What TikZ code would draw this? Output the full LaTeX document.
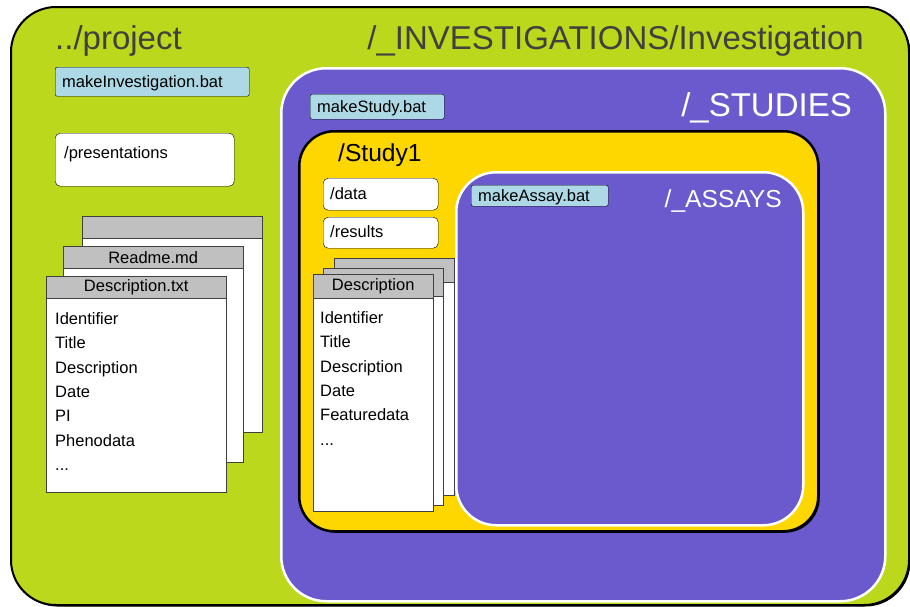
\documentclass[tikz,border=0pt]{standalone}
\usepackage{fontspec}
\setmainfont{Liberation Sans}
\usetikzlibrary{positioning,shadows}

\definecolor{limegreen}{RGB}{188,216,28}
\definecolor{slatepurple}{RGB}{106,90,205}
\definecolor{studygold}{RGB}{255,215,0}
\definecolor{batblue}{RGB}{173,216,230}
\definecolor{headgray}{RGB}{192,192,192}
\definecolor{titlegray}{RGB}{64,64,64}

\newcommand{\smalltext}{\fontsize{16.5}{24.3}\selectfont}
\newcommand{\bigtitle}{\fontsize{33}{40}\selectfont}
\newcommand{\midtitle}{\fontsize{24.6}{30}\selectfont}

\begin{document}
\begin{tikzpicture}[x=1pt,y=-1pt]
  \tikzstyle{folder} = [rectangle, anchor=north west, inner sep=0]
  \tikzstyle{purplefolder} = [folder, fill=slatepurple, draw=white, line width=2.5]
  \tikzstyle{batbox} = [rectangle, draw, rounded corners=2, fill=batblue, anchor=north west, align=left, inner xsep=7, inner ysep=0, text height=14, text depth=2, font=\smalltext]
  \tikzstyle{dirbox} = [rectangle, draw, rounded corners=5, fill=white, anchor=north west, align=left, inner xsep=7, inner ysep=0, text height=13, text depth=3, font=\smalltext]
  \tikzstyle{page} = [rectangle, draw=black!75, fill=white, anchor=north west, inner sep=0]
  \tikzstyle{pagehead} = [page, fill=headgray, font=\smalltext]
  \tikzstyle{pagetext} = [anchor=north west, align=left, inner sep=0, font=\smalltext]
  \tikzstyle{foldername} = [inner sep=0]
  \tikzstyle{blackshadow} = [drop shadow={shadow xshift=1.5pt, shadow yshift=-1.5pt, opacity=1, fill=black}]

  \useasboundingbox (0,0) rectangle (910,606);

  % ../project
  \node[folder, fill=limegreen, draw, line width=2, rounded corners=45, minimum width=898, minimum height=598, blackshadow] (project) at (10,6) {};
  \node[foldername, anchor=base west, font=\bigtitle, text=titlegray] (projname) at (55,49) {../project};
  \node[foldername, anchor=base east, font=\bigtitle, text=titlegray] (invname) at (864,49) {/\_INVESTIGATIONS/Investigation};
  \node[batbox, text width=180, minimum height=29] (makeinv) at (55,67) {makeInvestigation.bat};
  \node[dirbox, minimum width=179, minimum height=53] (presentations) at (55,133) {};
  \node[foldername, anchor=base west, font=\smalltext] (presname) at ([shift={(9,25)}]presentations.north west) {/presentations};

  % description files of the investigation
  \foreach \px/\py/\ptitle [count=\i] in {82/216/{}, 63/246/Readme.md, 46/276/Description.txt} {
    \node[page, minimum width=180, minimum height=216] (lpage\i) at (\px,\py) {};
    \node[pagehead, minimum width=180, minimum height=22] (lhead\i) at (\px,\py) {\ptitle};
  }
  \node[pagetext] (ltext) at ([shift={(9,14)}]lhead3.south west) {Identifier\\Title\\Description\\Date\\PI\\Phenodata\\...};

  % /_STUDIES
  \node[purplefolder, rounded corners=45, minimum width=604, minimum height=533] (studies) at (280,67) {};
  \node[foldername, anchor=base east, font=\bigtitle, text=white] (studiesname) at (852,116) {/\_STUDIES};
  \node[batbox, text width=120, minimum height=25] (makestudy) at (310,94) {makeStudy.bat};

  % /Study1
  \node[folder, fill=studygold, draw, line width=2.5, rounded corners=35, minimum width=519, minimum height=400, blackshadow] (study1) at (298,130) {};
  \node[foldername, anchor=base west, font=\midtitle] (study1name) at (338,161) {/Study1};
  \node[dirbox, text width=101, minimum height=32] (data) at (323,178) {/data};
  \node[dirbox, text width=101, minimum height=31] (results) at (323,217) {/results};

  % description files of the study
  \foreach \px/\py/\ph/\ptitle [count=\i] in {334/258/24/{}, 323/268/28/Description, 313/274/24/Description} {
    \node[page, minimum width=120, minimum height=237] (spage\i) at (\px,\py) {};
    \node[pagehead, minimum width=120, minimum height=\ph] (shead\i) at (\px,\py) {\ptitle};
  }
  \node[pagetext] (stext) at ([shift={(7,13)}]shead3.south west) {Identifier\\Title\\Description\\Date\\Featuredata\\...};

  % /_ASSAYS
  \node[purplefolder, rounded corners=40, minimum width=347, minimum height=353] (assays) at (455,171) {};
  \node[foldername, anchor=base east, font=\midtitle, text=white] (assaysname) at (782,207) {/\_ASSAYS};
  \node[batbox, text width=123, minimum height=21] (makeassay) at (471,185) {makeAssay.bat};
\end{tikzpicture}
\end{document}
